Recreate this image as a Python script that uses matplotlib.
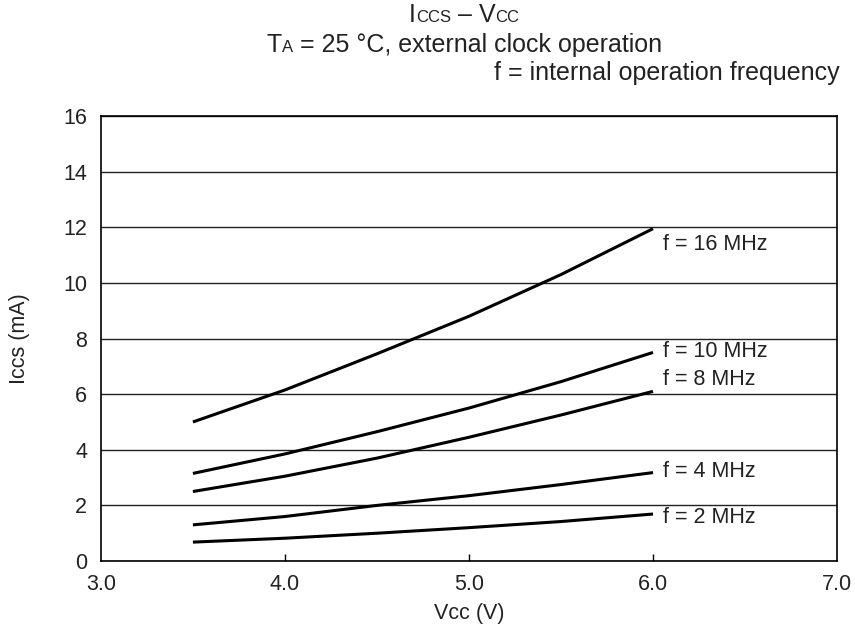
import numpy as np
import matplotlib
matplotlib.use("Agg")
import matplotlib.pyplot as plt
from matplotlib.offsetbox import TextArea, HPacker, AnnotationBbox

plt.rcParams['font.family'] = ['Liberation Sans', 'DejaVu Sans']

# Supply voltage (V) and current (mA)
vcc = [3.5, 4.0, 4.5, 5.0, 5.5, 6.0]
iccs_16mhz = [5.0, 6.15, 7.45, 8.8, 10.3, 11.95]
iccs_10mhz = [3.15, 3.85, 4.65, 5.5, 6.45, 7.5]
iccs_8mhz = [2.5, 3.05, 3.7, 4.45, 5.25, 6.1]
iccs_4mhz = [1.3, 1.6, 2.0, 2.35, 2.75, 3.18]
iccs_2mhz = [0.68, 0.82, 1.0, 1.2, 1.42, 1.69]

series = [iccs_16mhz, iccs_10mhz, iccs_8mhz, iccs_4mhz, iccs_2mhz]
labels = ['f = 16 MHz', 'f = 10 MHz', 'f = 8 MHz', 'f = 4 MHz', 'f = 2 MHz']
label_y = [11.37, 7.52, 6.53, 3.23, 1.55]

x_ticks = [3.0, 4.0, 5.0, 6.0, 7.0]
y_ticks = [0, 2, 4, 6, 8, 10, 12, 14, 16]

fs = 15.5

fig = plt.figure(figsize=(8.55, 6.33), dpi=100)
ax = fig.add_axes([0.118, 0.1137, 0.861, 0.703])

for ys in series:
    ax.plot(vcc, ys, color='black', linewidth=2.2, solid_capstyle='butt')

for lab, ly in zip(labels, label_y):
    ax.text(6.055, ly, lab, fontsize=fs, va='center', ha='left', color='#222222')

ax.set_xlim(3.0, 7.0)
ax.set_ylim(0, 16)
ax.set_xticks(x_ticks)
ax.set_xticklabels(['%.1f' % t for t in x_ticks])
ax.set_yticks(y_ticks)
ax.tick_params(axis='x', direction='in', length=5, width=1, labelsize=fs, pad=9,
               labelcolor='#222222')
ax.tick_params(axis='y', length=0, labelsize=fs, pad=10, labelcolor='#222222')
for t in ax.xaxis.get_major_ticks():
    if t.get_loc() in (3.0, 7.0):
        t.tick1line.set_visible(False)
ax.yaxis.grid(True, color='#222222', linewidth=1)
for s in ax.spines.values():
    s.set_linewidth(1.2)

ax.set_xlabel('Vcc (V)', fontsize=fs, labelpad=6, color='#222222')
ax.set_ylabel('Iccs (mA)', fontsize=fs, labelpad=24, color='#222222')


def packed(parts):
    boxes = [TextArea(s, textprops=dict(fontsize=size, color='#222222'))
             for s, size in parts]
    return HPacker(children=boxes, align='baseline', pad=0, sep=0)


big = 18
small = 12
line1 = packed([('I', big), ('CCS', small), (' \u2013 V', big), ('CC', small)])
line2 = packed([('T', big), ('A', small), (' = 25 \u00b0C, external clock operation', big)])
line3 = packed([('f = internal operation frequency', big)])

for box, xy, al in [(line1, (0.543, 0.976), (0.5, 0.5)),
                    (line2, (0.543, 0.929), (0.5, 0.5)),
                    (line3, (0.982, 0.884), (1.0, 0.5))]:
    ab = AnnotationBbox(box, xy, xycoords='figure fraction', box_alignment=al,
                        frameon=False)
    fig.add_artist(ab)

fig.savefig('out.png', dpi=100)
